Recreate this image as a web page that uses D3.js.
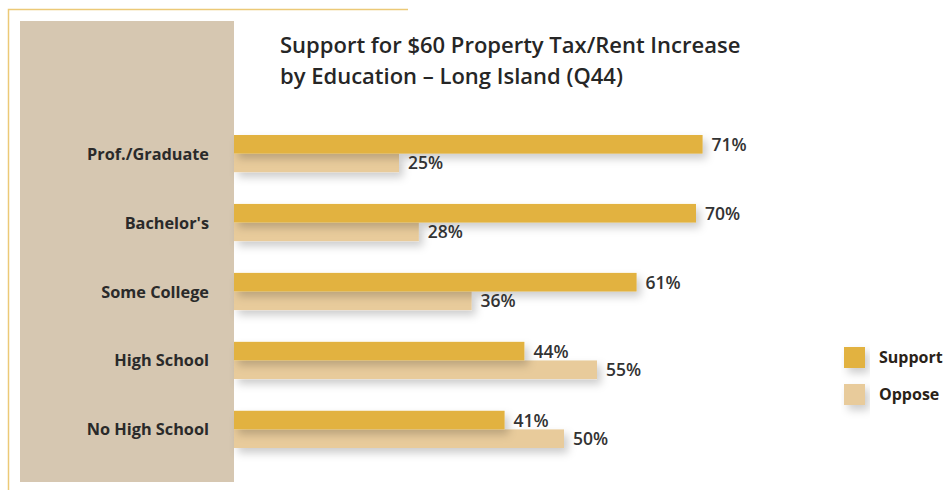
<!DOCTYPE html>
<html>
<head>
<meta charset="utf-8">
<script src="https://cdn.jsdelivr.net/npm/d3@7"></script>
<style>
  body { margin: 0; background: #fff; }
  svg { display: block; font-family: 'Open Sans', sans-serif; }
</style>
</head>
<body>
<div id="chart"></div>
<script>
'use strict';

// data
const categories = ['Prof./Graduate', "Bachelor's", 'Some College', 'High School', 'No High School'];
const support = [71, 70, 61, 44, 41];
const oppose = [25, 28, 36, 55, 50];
const seriesNames = ['Support', 'Oppose'];
const titleLines = ['Support for $60 Property Tax/Rent Increase', 'by Education \u2013 Long Island (Q44)'];

const colors = { Support: '#e2b23f', Oppose: '#e8cb9b' };

const W = 944, H = 490;

const svg = d3.select('#chart').append('svg')
    .attr('width', W)
    .attr('height', H);

// drop shadow
svg.append('defs').append('filter')
    .attr('id', 'shadow')
    .attr('x', '-10%').attr('y', '-50%')
    .attr('width', '130%').attr('height', '250%')
  .append('feDropShadow')
    .attr('dx', 4).attr('dy', 5)
    .attr('stdDeviation', 4)
    .attr('flood-color', '#000')
    .attr('flood-opacity', 0.2);

// frame lines
svg.append('path')
    .attr('d', 'M8.5,490 V9.5 H408')
    .attr('fill', 'none')
    .attr('stroke', '#ecc977')
    .attr('stroke-width', 1.5);

// beige label panel
svg.append('rect')
    .attr('x', 20).attr('y', 21)
    .attr('width', 214).attr('height', 461)
    .attr('fill', '#d6c7b1');

// title
svg.append('text')
    .attr('x', 280).attr('y', 53)
    .attr('font-size', 22)
    .attr('font-weight', 600)
    .attr('fill', '#262626')
  .selectAll('tspan')
  .data(titleLines)
  .join('tspan')
    .attr('x', 280)
    .attr('dy', (d, i) => i ? 31 : 0)
    .text(d => d);

// scales
const x = d3.scaleLinear().domain([0, 100]).range([234, 894]);
const y = d3.scaleBand().domain(categories).range([135, 448]).paddingInner(0.46).paddingOuter(0);
const sub = d3.scaleBand().domain(seriesNames).range([0, y.bandwidth()]);

const rows = categories.map((c, i) => ({ cat: c, values: [
  { key: 'Support', value: support[i] },
  { key: 'Oppose', value: oppose[i] }
] }));

// category labels
svg.append('g')
  .selectAll('text')
  .data(categories)
  .join('text')
    .attr('x', 209)
    .attr('y', d => y(d) + y.bandwidth() / 2 + 6)
    .attr('text-anchor', 'end')
    .attr('font-size', 16.3)
    .attr('font-weight', 700)
    .attr('fill', '#2a2a2a')
    .text(d => d);

const groups = svg.append('g')
  .selectAll('g')
  .data(rows)
  .join('g')
    .attr('transform', d => `translate(0,${y(d.cat)})`);

// bars (oppose first so the support shadow sits on top)
groups.selectAll('rect')
  .data(d => d.values.slice().reverse())
  .join('rect')
    .attr('x', x(0))
    .attr('y', d => sub(d.key))
    .attr('width', d => x(d.value) - x(0))
    .attr('height', sub.bandwidth())
    .attr('fill', d => colors[d.key])
    .attr('filter', 'url(#shadow)');

// value labels
groups.selectAll('text')
  .data(d => d.values)
  .join('text')
    .attr('x', d => x(d.value) + 9)
    .attr('y', d => sub(d.key) + sub.bandwidth() / 2 + 6.5)
    .attr('font-size', 17.5)
    .attr('font-weight', 600)
    .attr('fill', '#333')
    .text(d => d.value + '%');

// legend
const legend = svg.append('g')
  .selectAll('g')
  .data(seriesNames)
  .join('g')
    .attr('transform', (d, i) => `translate(844,${347 + i * 37})`);

legend.append('rect')
    .attr('width', 21).attr('height', 21)
    .attr('fill', d => colors[d])
    .attr('filter', 'url(#shadow)');

legend.append('text')
    .attr('x', 35).attr('y', 16)
    .attr('font-size', 16)
    .attr('font-weight', 700)
    .attr('fill', '#2a2218')
    .text(d => d);
</script>
</body>
</html>
